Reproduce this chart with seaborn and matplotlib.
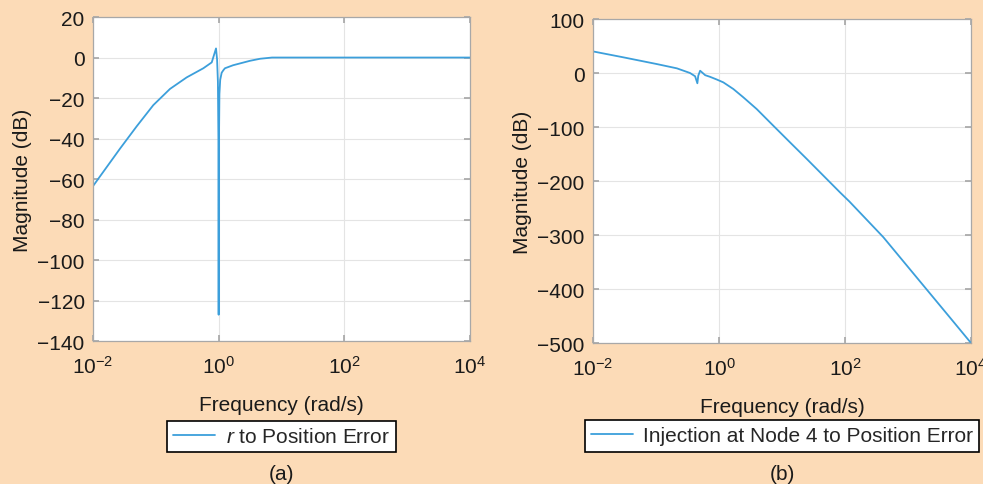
import numpy as np
import pandas as pd
import matplotlib.pyplot as plt
import seaborn as sns

# (a) r to position error
freq_a = [0.01, 0.0269, 0.0495, 0.0912, 0.168, 0.310, 0.570, 0.776, 0.908,
          0.944, 0.973, 0.991, 1.0, 1.009, 1.028, 1.059, 1.117, 1.186, 1.259,
          1.698, 3.162, 4.57, 7.08, 10000]
mag_a = [-63.5, -45.0, -34.0, -23.5, -15.5, -9.8, -5.3, -2.4, 4.5,
         -1.0, -12.0, -40.0, -127.0, -45.0, -18.0, -11.0, -7.5, -6.3, -5.3,
         -3.8, -1.6, -0.6, 0.0, 0.0]

# (b) injection at node 4 to position error
freq_b = [0.01, 0.0302, 0.102, 0.214, 0.347, 0.417, 0.453, 0.468, 0.501,
          0.603, 0.719, 0.920, 1.17, 1.687, 2.432, 3.963, 7.278, 13.40, 24.66,
          45.29, 83.18, 117.5, 405.5, 1374, 4645, 10000]
mag_b = [40.0, 29.1, 16.7, 8.7, 0.0, -6.0, -19.0, -5.0, 4.3,
         -4.0, -7.0, -12.0, -17.3, -29.6, -45.0, -66.7, -97.6, -128.4, -159.0,
         -190.0, -221.0, -238.0, -304.0, -378.6, -453.0, -500.0]

label_a = "$r$ to Position Error"
label_b = "Injection at Node 4 to Position Error"
yticks_a = list(range(-140, 21, 20))
yticks_b = list(range(-500, 101, 100))
xticks = [1e-2, 1e0, 1e2, 1e4]

BG = "#FCDBB7"
LINE = "#3C9FDB"
TXT = "#1a1a1a"
FS = 15

sns.set_theme(style="ticks")
plt.rcParams["font.family"] = ["Liberation Sans", "DejaVu Sans"]
plt.rcParams["mathtext.fontset"] = "custom"
plt.rcParams["mathtext.rm"] = "Liberation Sans"
plt.rcParams["mathtext.it"] = "Liberation Sans:italic"
plt.rcParams["axes.unicode_minus"] = True

fig = plt.figure(figsize=(9.83, 4.85), dpi=100, facecolor=BG)
ax_a = fig.add_axes([0.0946, 0.2948, 0.3835, 0.668])
ax_b = fig.add_axes([0.6033, 0.2907, 0.3845, 0.668])

panels = [
    (ax_a, freq_a, mag_a, label_a, yticks_a, -0.246, "(a)"),
    (ax_b, freq_b, mag_b, label_b, yticks_b, -0.238, "(b)"),
]

for ax, f, m, lab, yt, leg_y, tag in panels:
    df = pd.DataFrame({"freq": f, "mag": m})
    sns.lineplot(data=df, x="freq", y="mag", ax=ax, color=LINE, lw=1.3,
                 estimator=None, sort=False, label=lab)
    ax.set_xscale("log")
    ax.set_xlim(1e-2, 1e4)
    ax.set_ylim(yt[0], yt[-1])
    ax.set_xticks(xticks)
    ax.set_yticks(yt)
    ax.minorticks_off()
    ax.set_facecolor("white")
    ax.grid(True, color="#E4E4E4", lw=0.8)
    for s in ax.spines.values():
        s.set_color("#A8A8A8")
        s.set_linewidth(0.9)
    ax.tick_params(direction="in", length=4, color="#A8A8A8", labelsize=FS,
                   labelcolor=TXT, top=True, right=True)
    ax.tick_params(axis="x", pad=10)
    ax.tick_params(axis="y", pad=6)
    ax.set_xlabel("Frequency (rad/s)", fontsize=FS, color=TXT, labelpad=13)
    ax.set_ylabel("Magnitude (dB)", fontsize=FS, color=TXT, labelpad=4)
    leg = ax.legend(loc="upper center", bbox_to_anchor=(0.5, leg_y), fontsize=FS,
                    frameon=True, fancybox=False, framealpha=1, edgecolor="black",
                    borderpad=0.3, borderaxespad=0, handlelength=2.0,
                    handletextpad=0.5)
    leg.get_frame().set_linewidth(1.2)
    bb = ax.get_position()
    fig.text((bb.x0 + bb.x1) / 2, 1 - 475 / 485, tag, ha="center", va="center",
             fontsize=FS, color=TXT)

fig.savefig("out.png", dpi=100, facecolor=BG)
